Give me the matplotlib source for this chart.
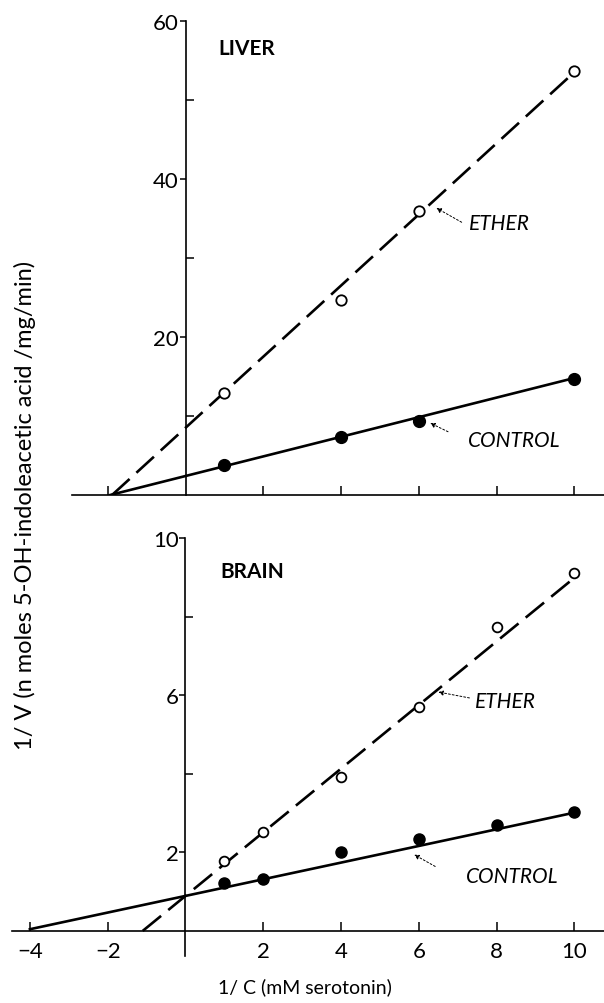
import matplotlib
matplotlib.use("Agg")
import matplotlib.pyplot as plt
import numpy as np

plt.rcParams['font.family'] = ['Lato', 'DejaVu Sans']

# liver data (1/C, 1/V)
liver_x_ether = [1, 4, 6, 10]
liver_y_ether = [12.9, 24.7, 35.9, 53.6]
liver_x_ctrl = [1, 4, 6, 10]
liver_y_ctrl = [3.8, 7.3, 9.3, 14.7]
# hand drawn lines: (intercept, slope, x start, x end)
liver_line_ether = (8.5, 4.5, -1.89, 9.9)
liver_line_ctrl = (2.4, 1.24, -1.94, 10.0)

# brain data
brain_x_ether = [1, 2, 4, 6, 8, 10]
brain_y_ether = [1.77, 2.52, 3.92, 5.69, 7.73, 9.11]
brain_x_ctrl = [1, 2, 4, 6, 8, 10]
brain_y_ctrl = [1.22, 1.32, 2.02, 2.35, 2.69, 3.02]
brain_line_ether = (0.89, 0.81, -1.1, 9.9)
brain_line_ctrl = (0.89, 0.212, -4.0, 10.0)

lw = 1.9
dash = (0, (9, 3.5))


def draw_line(ax, params, ls):
    b, m, x0, x1 = params
    xs = np.array([x0, x1])
    ax.plot(xs, b + m * xs, color='k', lw=lw, ls=ls, zorder=2)


def setup_axes(ax, xlim, ylim, xticks, major, minor, labels):
    ax.set_xlim(*xlim)
    ax.set_ylim(*ylim)
    for s in ['top', 'right']:
        ax.spines[s].set_visible(False)
    ax.spines['left'].set_position(('data', 0))
    ax.spines['bottom'].set_position(('data', 0))
    for s in ['left', 'bottom']:
        ax.spines[s].set_linewidth(1.2)
    ax.set_xticks(xticks)
    ax.tick_params(axis='x', direction='in', length=6.5, width=1.1, pad=7,
                   labelsize=16)
    if not labels:
        ax.set_xticklabels([])
    ax.set_yticks(major)
    ax.set_yticks(minor, minor=True)
    ax.tick_params(axis='y', which='major', direction='out', length=4,
                   width=1.1, pad=1, labelsize=16)
    ax.tick_params(axis='y', which='minor', direction='in', length=6,
                   width=1.1)


def label(ax, text, xy, tail, head):
    ax.text(xy[0], xy[1], text, fontsize=15, style='italic',
            va='center', ha='left')
    ax.annotate('', xy=head, xytext=tail,
                arrowprops=dict(arrowstyle='-|>', color='k', lw=0.7,
                                ls=(0, (2, 2)), mutation_scale=7,
                                shrinkA=0, shrinkB=0))


fig = plt.figure(figsize=(6.04, 10.04), dpi=100)

# LIVER
ax1 = fig.add_axes([0.1192, 0.506, 0.8808, 0.4724])
setup_axes(ax1, (-2.92, 10.76), (0, 60), [-2, 2, 4, 6, 8, 10],
           [20, 40, 60], [10, 30, 50], False)
draw_line(ax1, liver_line_ether, dash)
draw_line(ax1, liver_line_ctrl, '-')
ax1.plot(liver_x_ether, liver_y_ether, 'o', ms=7.5, mfc='white', mec='k',
         mew=1.3, zorder=3)
ax1.plot(liver_x_ctrl, liver_y_ctrl, 'o', ms=8.5, color='k', zorder=3)
ax1.text(0.85, 56.6, 'LIVER', fontsize=15, fontweight='bold',
         va='center')
label(ax1, 'ETHER', (7.3, 34.4), (7.1, 34.5), (6.45, 36.3))
label(ax1, 'CONTROL', (7.25, 6.9), (6.75, 8.0), (6.29, 9.1))

# BRAIN
ax2 = fig.add_axes([0.0199, 0.0468, 0.9801, 0.4163])
setup_axes(ax2, (-4.46, 10.76), (-0.64, 10), [-4, -2, 2, 4, 6, 8, 10],
           [2, 6, 10], [4, 8], True)
draw_line(ax2, brain_line_ether, dash)
draw_line(ax2, brain_line_ctrl, '-')
ax2.plot(brain_x_ether, brain_y_ether, 'o', ms=7, mfc='white', mec='k',
         mew=1.3, zorder=3)
ax2.plot(brain_x_ctrl, brain_y_ctrl, 'o', ms=8, color='k', zorder=3)
ax2.text(0.9, 9.15, 'BRAIN', fontsize=15, fontweight='bold', va='center')
label(ax2, 'ETHER', (7.45, 5.86), (7.3, 5.93), (6.5, 6.08))
label(ax2, 'CONTROL', (7.2, 1.39), (6.42, 1.64), (5.88, 1.94))

fig.text(0.041, 0.497, '1/ V (n moles 5-OH-indoleacetic acid /mg/min)',
         rotation=90, fontsize=17, ha='center', va='center')
fig.text(0.505, 0.017, '1/ C (mM serotonin)', fontsize=14,
         ha='center', va='center')

fig.savefig('out.png', dpi=100)
